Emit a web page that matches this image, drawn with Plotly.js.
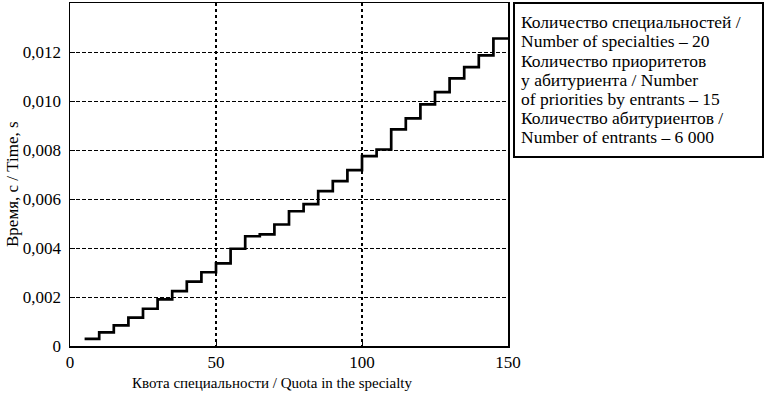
<!DOCTYPE html>
<html>
<head>
<meta charset="utf-8">
<script src="https://cdn.plot.ly/plotly-3.0.1.min.js"></script>
<style>html,body{margin:0;padding:0;background:#fff;}#chart{width:765px;height:394px;}</style>
</head>
<body>
<div id="chart"></div>
<script>
// Quota in the specialty (step starts)
var quota = [5, 10, 15, 20, 25, 30, 35, 40, 45, 50, 55, 60, 65, 70, 75, 80, 85, 90, 95, 100, 105, 110, 115, 120, 125, 130, 135, 140, 145, 150];
// Time, s
var timeS = [0.00029, 0.00056, 0.00084, 0.00116, 0.00152, 0.0019, 0.00224, 0.00263, 0.00301, 0.00337, 0.00397, 0.00448, 0.00456, 0.00496, 0.0055, 0.00579, 0.00632, 0.00673, 0.00718, 0.00775, 0.00802, 0.00884, 0.00929, 0.00986, 0.01036, 0.01092, 0.01138, 0.01186, 0.01255, 0.01255];

var yTickVals = [0, 0.002, 0.004, 0.006, 0.008, 0.010, 0.012, 0.014];
var yTickText = ["0", "0,002", "0,004", "0,006", "0,008", "0,010", "0,012", "0,014"];
var xTickVals = [0, 50, 100, 150];
var xTickText = ["0", "50", "100", "150"];

var xTitle = "Квота специальности / Quota in the specialty";
var yTitle = "Время, с / Time, s";

var legendLines = [
  "Количество специальностей /",
  "Number of specialties – 20",
  "Количество приоритетов",
  "у абитуриента / Number",
  "of priorities by entrants – 15",
  "Количество абитуриентов /",
  "Number of entrants – 6 000"
];

var font = "Liberation Serif";
var H = 343, L = 70, W = 438, T = 3;
function py(pix) { return 1 - (pix - T) / H; }
function px(pix) { return (pix - L) / W; }

var trace = {
  x: quota, y: timeS, type: "scatter", mode: "lines",
  line: {shape: "hv", color: "#000", width: 2.7},
  hoverinfo: "skip"
};

var legendY = [22, 41, 61, 80, 99, 118, 137];
var annotations = legendLines.map(function (t, i) {
  return {
    text: t, xref: "paper", yref: "paper",
    x: px(519), xanchor: "left",
    y: py(legendY[i]), yanchor: "middle",
    showarrow: false, align: "left",
    font: {family: font, size: 17.5, color: "#000"}
  };
});
annotations.push({
  text: xTitle, xref: "paper", yref: "paper",
  x: px(272), xanchor: "center", y: py(383), yanchor: "middle",
  showarrow: false, font: {family: font, size: 15, color: "#000"}
});
annotations.push({
  text: yTitle, xref: "paper", yref: "paper", textangle: -90,
  x: px(12), xanchor: "center", y: py(184), yanchor: "middle",
  showarrow: false, font: {family: font, size: 17, color: "#000"}
});

var layout = {
  width: 765, height: 394,
  margin: {l: L, r: 765 - L - W, t: T, b: 394 - T - H},
  paper_bgcolor: "#fff", plot_bgcolor: "#fff",
  showlegend: false,
  font: {family: font, size: 16, color: "#000"},
  xaxis: {
    range: [0, 150], tickvals: xTickVals, ticktext: xTickText,
    ticks: "inside", ticklen: 5, tickcolor: "#000",
    showline: true, linecolor: "#000", linewidth: 1.5, mirror: true,
    showgrid: true, gridcolor: "#000", gridwidth: 1.5, griddash: "dot",
    zeroline: false,
    tickfont: {family: font, size: 17}
  },
  yaxis: {
    range: [0, 0.014], tickvals: yTickVals, ticktext: yTickText,
    ticks: "inside", ticklen: 5, tickcolor: "#000",
    showline: true, linecolor: "#000", linewidth: 1.5, mirror: true,
    showgrid: true, gridcolor: "#000", gridwidth: 1, griddash: "4px,2px",
    zeroline: false, ticklabelstandoff: 4,
    tickfont: {family: font, size: 17}
  },
  shapes: [{
    type: "rect", xref: "paper", yref: "paper",
    x0: px(514), x1: px(763), y0: py(157), y1: py(3),
    line: {color: "#000", width: 2}, fillcolor: "rgba(0,0,0,0)"
  }],
  annotations: annotations
};

Plotly.newPlot("chart", [trace], layout, {staticPlot: true, displayModeBar: false});
</script>
</body>
</html>
